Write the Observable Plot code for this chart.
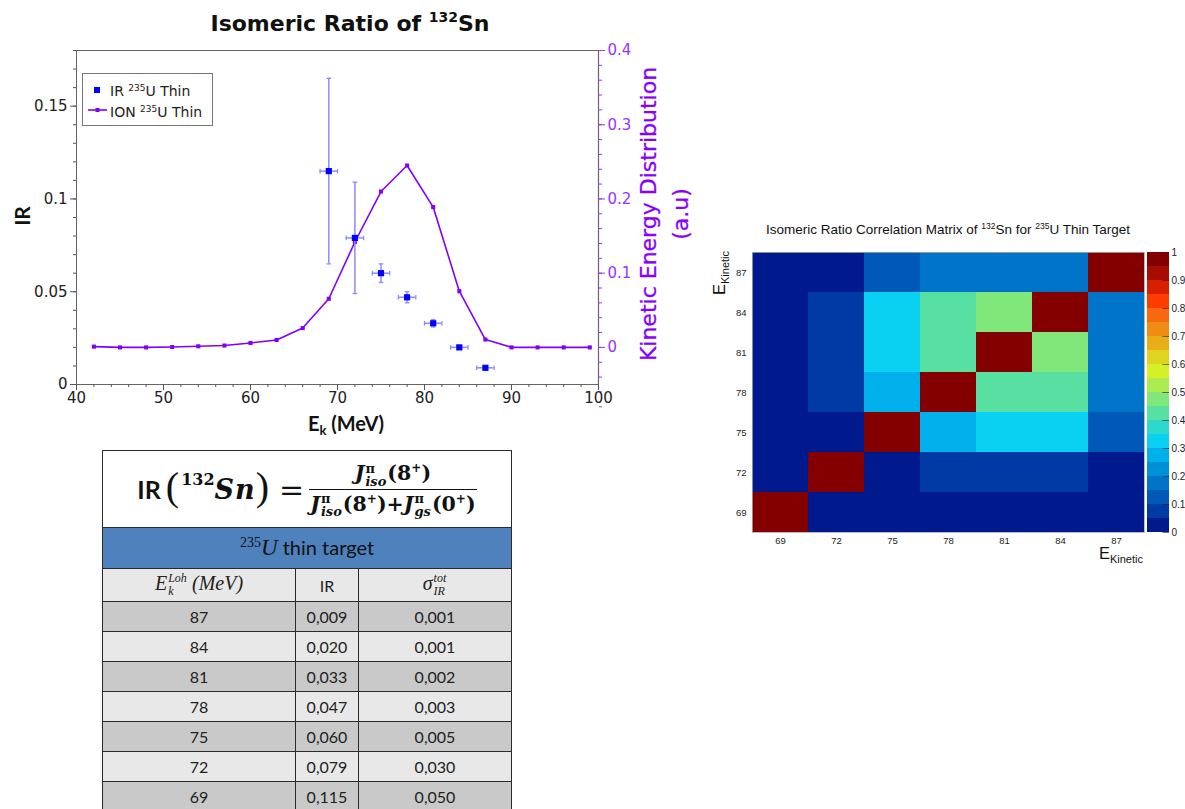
<!DOCTYPE html>
<html><head><meta charset="utf-8">
<script src="https://cdn.jsdelivr.net/npm/d3@7"></script>
<script src="https://cdn.jsdelivr.net/npm/@observablehq/plot@0.6"></script>
<style>
body{margin:0;background:#fff;}
#root{position:relative;width:1185px;height:809px;overflow:hidden;font-family:"DejaVu Sans",sans-serif;color:#222;}
#root svg{position:absolute;left:0;top:0;}
.abs{position:absolute;white-space:nowrap;}
.title{left:0;width:700px;top:12px;text-align:center;font-family:"DejaVu Sans",sans-serif;font-weight:700;font-size:22px;line-height:24px;color:#111;}
.title sup{font-size:14px;vertical-align:9px;line-height:0;}
.xlab{left:246px;width:200px;top:413px;text-align:center;font-family:Lato,sans-serif;font-weight:700;font-size:20px;line-height:20px;color:#111;}
.xlab sub{font-size:13px;vertical-align:-4px;line-height:0;font-weight:700;}
.ylab{left:21px;top:216px;transform:translate(-50%,-50%) rotate(-90deg);font-family:Lato,sans-serif;font-weight:700;font-size:21px;line-height:21px;color:#111;}
.rlab{left:665px;top:214px;width:330px;transform:translate(-50%,-50%) rotate(-90deg);text-align:center;font-size:22px;line-height:32px;color:#8800ff;-webkit-text-stroke:0.3px #8800ff;}
.legend{left:82px;top:73px;width:129px;height:51px;border:1px solid #777;background:#fff;font-size:14px;line-height:14px;}
.legend .t{position:absolute;left:27px;}
.legend sup{font-size:9px;vertical-align:5px;line-height:0;}
.hmtitle{left:740px;width:416px;top:223px;text-align:center;font-family:"Liberation Sans",Arial,sans-serif;font-size:13.5px;line-height:14px;color:#111;}
.hmtitle sup{font-size:8.5px;vertical-align:5px;line-height:0;}
.ek{font-family:"Liberation Sans",Arial,sans-serif;font-size:16.5px;line-height:16px;color:#111;}
.ek sub{font-size:11px;vertical-align:-4px;line-height:0;}
table.ir{position:absolute;left:102px;top:450px;width:409px;border-collapse:collapse;table-layout:fixed;}
table.ir td{border:1.5px solid #2a2a2a;padding:0;text-align:center;font-family:Lato,sans-serif;font-size:16px;color:#222;}
table.ir tr.formula td{height:76px;background:#fff;}
table.ir tr.blue td{height:40px;background:#4f81bd;font-size:20px;color:#111;}
table.ir tr.hdr td{height:32px;background:#e8e8e8;}
table.ir tr.dark td{height:29px;background:#c9c9c9;}
table.ir tr.light td{height:29px;background:#e8e8e8;}
.ser{font-family:"Liberation Serif",serif;font-style:italic;}
.fx{display:inline-flex;align-items:center;justify-content:center;color:#111;}
.fx .irb{font-family:Lato,sans-serif;font-weight:700;font-size:25px;margin-right:5px;}
.fx .par{font-family:"Liberation Serif",serif;font-size:40px;font-weight:400;line-height:30px;position:relative;top:-2px;}
.fx .sn{font-family:"DejaVu Serif",serif;font-style:italic;font-weight:700;font-size:27px;letter-spacing:1px;}
.fx .sup132{font-family:"DejaVu Serif",serif;font-size:16px;font-weight:700;position:relative;top:-10px;margin-left:2px;}
.fx .eq{font-family:"DejaVu Serif",serif;font-size:30px;margin:0 5px 0 10px;}
.frac{display:inline-flex;flex-direction:column;align-items:center;}
.frac .num{padding:0 2px 1px 2px;border-bottom:1.5px solid #111;width:100%;text-align:center;box-sizing:border-box;}
.frac .den{padding:1px 1px 0 1px;}
.bj{font-family:"DejaVu Serif",serif;font-weight:700;font-size:20.5px;line-height:27px;white-space:nowrap;}
.bj i{font-style:italic;}
.ss{display:inline-flex;flex-direction:column;vertical-align:middle;line-height:13px;font-size:13px;margin:0 1px 0 1px;text-align:left;}
.ss .pi{font-style:normal;}
.bj sup{font-size:12px;vertical-align:8px;line-height:0;}
.hs{display:inline-flex;flex-direction:column;vertical-align:middle;line-height:13px;font-size:12px;margin:0 1px;text-align:left;}
</style></head><body><div id="root"></div>
<script>
// ---------------- data ----------------
const ionEnergies = [42,45,48,51,54,57,60,63,66,69,72,75,78,81,84,87,90,93,96,99];
const ionValues   = [0.001,0.0,0.0,0.0005,0.0015,0.0025,0.006,0.010,0.026,0.0655,0.142,0.210,0.245,0.189,0.0757,0.0106,0.0,0.0,0.0,0.0];
const irEnergies = [69,72,75,78,81,84,87];
const irValues   = [0.115,0.079,0.060,0.047,0.033,0.020,0.009];
const irErrors   = [0.050,0.030,0.005,0.003,0.002,0.001,0.001];
const energyHalfWidth = 1;
const xTicks = [40,50,60,70,80,90,100];
const leftTicks = [0,0.05,0.1,0.15];
const rightTicks = [0,0.1,0.2,0.3,0.4];
const matrixEnergies = [69,72,75,78,81,84,87];
// rows: y = 69..87 ; columns: x = 69..87
const correlation = [
  [1.00,0.02,0.02,0.02,0.02,0.02,0.02],
  [0.02,1.00,0.02,0.08,0.08,0.08,0.02],
  [0.02,0.02,1.00,0.28,0.33,0.33,0.13],
  [0.02,0.08,0.28,1.00,0.42,0.42,0.18],
  [0.02,0.08,0.33,0.42,1.00,0.48,0.18],
  [0.02,0.08,0.33,0.42,0.48,1.00,0.18],
  [0.02,0.02,0.13,0.18,0.18,0.18,1.00]
];
const paletteColors = ["#00198c","#003aa5","#0058b8","#0074c8","#0090d8","#00b0ea","#0ad0f2","#2ed8cc","#58e0a2","#80e87a",
                       "#acec50","#d6f028","#e0d420","#e8ae18","#f08c14","#f86810","#ff3c00","#d82000","#a80c00","#840000"];
const colorbarTicks = [0,0.1,0.2,0.3,0.4,0.5,0.6,0.7,0.8,0.9,1];

// ---------------- helpers ----------------
const root = document.getElementById("root");
const purpleLine = "#8000ff", purpleAxis = "#9933ff", irBlue = "#0000ff", errColor = "#8c8cff";
const ionData = ionEnergies.map((e,i)=>({e, v: ionValues[i]}));
const irData = irEnergies.map((e,i)=>({e, v: irValues[i], err: irErrors[i]}));
const hCap = {draw(c, size){const w=Math.sqrt(size)/2; c.moveTo(-w,0); c.lineTo(w,0);}};
const vCap = {draw(c, size){const w=Math.sqrt(size)/2; c.moveTo(0,-w); c.lineTo(0,w);}};
const W=700, H=440, mL=76, mR=102, mT=50, mB=56;
const baseStyle = {background:"transparent", fontFamily:"DejaVu Sans", fontSize:"15px", color:"#222", overflow:"visible"};

// ---------------- ION (right axis) ----------------
const ionPlot = Plot.plot({
  width:W, height:H, marginLeft:mL, marginRight:mR, marginTop:mT, marginBottom:mB,
  style: baseStyle,
  x:{domain:[40,100], axis:null},
  y:{domain:[-0.05,0.4], axis:null},
  marks:[
    Plot.ruleX([100], {stroke: purpleAxis, strokeWidth:1.2}),
    Plot.axisY({anchor:"right", ticks: d3.range(-4,21).map(i=>i*0.02), tickSize:3, fill:"none", stroke:purpleAxis, label:null}),
    Plot.axisY({anchor:"right", ticks: rightTicks, tickSize:6, tickPadding:3, color:purpleAxis, label:null, tickFormat: d=>String(d)}),
    Plot.line(ionData, {x:"e", y:"v", stroke:purpleLine, strokeWidth:1.6}),
    Plot.dot(ionData, {x:"e", y:"v", symbol:"square", r:2.3, fill:purpleLine})
  ]
});
root.appendChild(ionPlot);

// ---------------- IR (left axis) ----------------
const irPlot = Plot.plot({
  width:W, height:H, marginLeft:mL, marginRight:mR, marginTop:mT, marginBottom:mB,
  style: baseStyle,
  x:{domain:[40,100], axis:null},
  y:{domain:[0,0.18], axis:null},
  marks:[
    Plot.frame({stroke:"#666", strokeWidth:1}),
    Plot.axisX({ticks: d3.range(40,101,2), tickSize:3, fill:"none", stroke:"#555", label:null}),
    Plot.axisX({ticks: xTicks, tickSize:6, tickPadding:2, stroke:"#555", fill:"#222", label:null}),
    Plot.axisY({ticks: d3.range(0,19).map(i=>i*0.01), tickSize:3, fill:"none", stroke:"#555", label:null}),
    Plot.axisY({ticks: leftTicks, tickSize:6, tickPadding:3, stroke:"#555", fill:"#222", label:null, tickFormat: d=>String(d)}),
    Plot.ruleX(irData, {x:"e", y1: d=>d.v-d.err, y2: d=>d.v+d.err, stroke:errColor, strokeWidth:1.5}),
    Plot.ruleY(irData, {y:"v", x1: d=>d.e-energyHalfWidth, x2: d=>d.e+energyHalfWidth, stroke:errColor, strokeWidth:1.5}),
    Plot.dot(irData, {x:"e", y: d=>d.v+d.err, symbol:hCap, r:2.6, stroke:errColor, fill:"none", strokeWidth:1.3}),
    Plot.dot(irData, {x:"e", y: d=>d.v-d.err, symbol:hCap, r:2.6, stroke:errColor, fill:"none", strokeWidth:1.3}),
    Plot.dot(irData, {x: d=>d.e-energyHalfWidth, y:"v", symbol:vCap, r:2.6, stroke:errColor, fill:"none", strokeWidth:1.3}),
    Plot.dot(irData, {x: d=>d.e+energyHalfWidth, y:"v", symbol:vCap, r:2.6, stroke:errColor, fill:"none", strokeWidth:1.3}),
    Plot.dot(irData, {x:"e", y:"v", symbol:"square", r:3.5, fill:irBlue})
  ]
});
root.appendChild(irPlot);

// ---------------- texts around left chart ----------------
function addDiv(cls, html){const d=document.createElement("div"); d.className="abs "+cls; d.innerHTML=html; root.appendChild(d); return d;}
addDiv("title", 'Isomeric Ratio of <sup>132</sup>Sn');
addDiv("xlab", 'E<sub>k</sub> (MeV)');
addDiv("ylab", 'IR');
addDiv("rlab", 'Kinetic Energy Distribution<br>(a.u)');
const lg = addDiv("legend", '');
lg.innerHTML = `
  <svg width="129" height="51" style="position:absolute;left:0;top:0">
    <rect x="11" y="13" width="6" height="6" fill="${irBlue}"/>
    <line x1="5" y1="36" x2="24" y2="36" stroke="${purpleLine}" stroke-width="1.6"/>
    <rect x="12.5" y="34" width="4" height="4" fill="${purpleLine}"/>
  </svg>
  <div class="t" style="top:10px">IR <sup>235</sup>U Thin</div>
  <div class="t" style="top:31px">ION <sup>235</sup>U Thin</div>`;

// ---------------- table ----------------
const fmt = v => d3.format(".3f")(v).replace(".", ",");
const tableRows = irEnergies.map((e,i)=>({e, v:irValues[i], s:irErrors[i]})).sort((a,b)=>b.e-a.e);
const jIso = '<i>J</i><span class="ss"><span class="pi">π</span><i>iso</i></span>(8<sup>+</sup>)';
const jGs  = '<i>J</i><span class="ss"><span class="pi">π</span><i>gs</i></span>(0<sup>+</sup>)';
let html = `<table class="ir"><colgroup><col style="width:193px"><col style="width:63px"><col style="width:153px"></colgroup>
<tr class="formula"><td colspan="3"><span class="fx">
  <span class="irb">IR</span><span class="par">(</span><span class="sup132">132</span><span class="sn">Sn</span><span class="par">)</span>
  <span class="eq">=</span>
  <span class="frac"><span class="num bj">${jIso}</span><span class="den bj">${jIso}+${jGs}</span></span>
</span></td></tr>
<tr class="blue"><td colspan="3"><span style="font-family:'Liberation Serif',serif;font-size:14px;position:relative;top:-8px">235</span><span class="ser" style="font-size:23px">U</span> thin target</td></tr>
<tr class="hdr"><td><span class="ser" style="font-size:20px">E</span><span class="hs ser"><span>Loh</span><span>k</span></span> <span class="ser" style="font-size:20px">(MeV)</span></td><td>IR</td>
<td><span class="ser" style="font-size:20px">σ</span><span class="hs ser"><span>tot</span><span>IR</span></span></td></tr>`;
tableRows.forEach((r,i)=>{
  html += `<tr class="${i%2===0?'dark':'light'}"><td>${r.e}</td><td>${fmt(r.v)}</td><td>${fmt(r.s)}</td></tr>`;
});
html += `</table>`;
const tw = document.createElement("div"); tw.innerHTML = html; root.appendChild(tw.firstElementChild);

// ---------------- correlation matrix ----------------
const cells = [];
correlation.forEach((row,i)=>row.forEach((v,j)=>cells.push({y: matrixEnergies[i], x: matrixEnergies[j], v})));
const thresholds = d3.range(1,20).map(i=>+(i*0.05).toFixed(2));
const colorScale = {type:"threshold", domain: thresholds, range: paletteColors};
const hmStyle = {background:"transparent", fontFamily:"Liberation Sans", fontSize:"9.5px", color:"#222", overflow:"visible"};
const hm = Plot.plot({
  width:485, height:380, marginLeft:52, marginRight:41, marginTop:52, marginBottom:48,
  style: hmStyle,
  x:{type:"band", domain: matrixEnergies, padding:0, axis:null},
  y:{type:"band", domain: matrixEnergies.slice().reverse(), padding:0, axis:null},
  color: colorScale,
  marks:[
    Plot.cell(cells, {x:"x", y:"y", fill:"v", inset:0, shapeRendering:"crispEdges"}),
    Plot.frame({stroke:"#aaa", strokeWidth:0.8}),
    Plot.axisX({tickSize:0, tickPadding:5, label:null}),
    Plot.axisY({tickSize:0, tickPadding:6, label:null})
  ]
});
hm.style.left = "700px"; hm.style.top = "200px";
root.appendChild(hm);

const bands = d3.range(20).map(i=>({lo: i*0.05, hi: (i+1)*0.05, mid: (i+0.5)*0.05}));
const cb = Plot.plot({
  width:45, height:305, marginLeft:7, marginRight:16, marginTop:12, marginBottom:13,
  style: {...hmStyle, fontSize:"10px"},
  x:{domain:[0,1], axis:null},
  y:{domain:[0,1], axis:null},
  color: colorScale,
  marks:[
    Plot.rect(bands, {x1: ()=>0, x2: ()=>1, y1:"lo", y2:"hi", fill:"mid", shapeRendering:"crispEdges"}),
    Plot.ruleY(colorbarTicks, {x1: ()=>0.7, x2: ()=>1, stroke:"#222", strokeWidth:1, strokeOpacity:0.6}),
    Plot.axisY({anchor:"right", ticks: colorbarTicks, tickSize:0, tickPadding:2, label:null, tickFormat: d=>String(d)})
  ]
});
cb.style.left = "1140px"; cb.style.top = "240px";
root.appendChild(cb);

addDiv("hmtitle", 'Isomeric Ratio Correlation Matrix of <sup>132</sup>Sn for <sup>235</sup>U Thin Target');
const yk = addDiv("ek", 'E<sub>Kinetic</sub>');
yk.style.left = "711px"; yk.style.top = "295px"; yk.style.transformOrigin = "0 0"; yk.style.transform = "rotate(-90deg)";
const xk = addDiv("ek", 'E<sub>Kinetic</sub>');
xk.style.right = "42px"; xk.style.top = "545px";
</script></body></html>
